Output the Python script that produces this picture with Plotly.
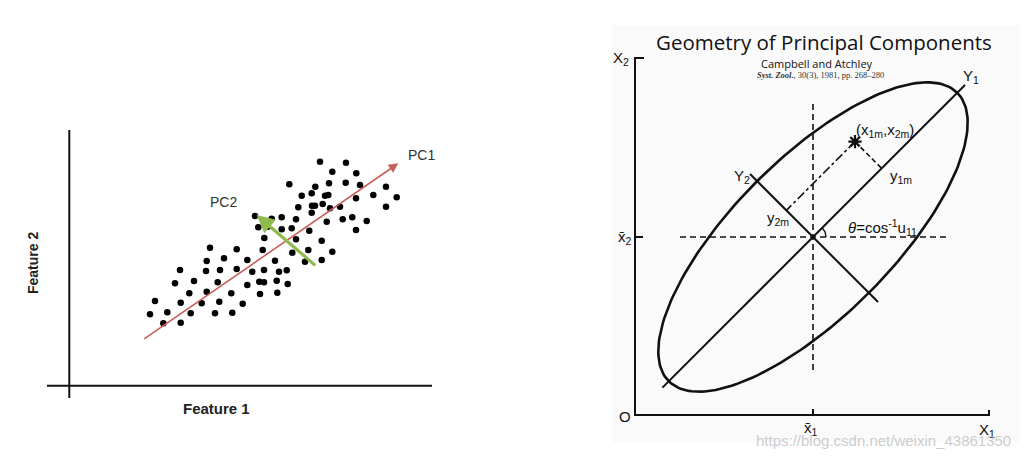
import numpy as np
import plotly.graph_objects as go

# ---------------- Left panel data (Feature 1, Feature 2) ----------------
feature1 = [251, 277, 263.3, 287.3, 220.3, 246.3, 260, 276.7, 291, 317,
            232.7, 242.7, 256, 259.3, 287, 304.3, 327.7, 229.3, 243, 246,
            253.7, 261, 271, 317, 186, 202.7, 212.7, 227, 242.7, 257.7,
            273.7, 283.3, 297.7, 189.3, 198.7, 212.7, 222.7, 240.3, 287, 195.3,
            227, 252.7, 141, 167.7, 193.7, 223.3, 239.3, 263.3, 137.7, 155,
            178.3, 206, 236, 252.7, 111, 137, 151, 167.7, 183.3, 195,
            210, 217.7, 106, 125, 148.7, 178.3, 190.3, 195, 207.7, 218.7,
            120.3, 137.7, 162.3, 191, 208.3, 86, 111.7, 132.7, 150.3, 173.7,
            81, 98.3, 121.7, 146, 163.3, 94.3, 111.7]
feature2 = [223.3, 222.3, 213.3, 211.7, 200.7, 198.3, 201.7, 202.3, 200, 198.3,
            189.3, 191.7, 189.3, 190, 186.7, 190, 187.7, 177.7, 179.3, 179.3,
            181, 176.7, 178.3, 178.3, 169, 166.3, 167.7, 165.7, 172.3, 163.3,
            165.7, 167.7, 164, 157.7, 158.3, 155.7, 156.7, 154.3, 155, 147,
            145.7, 144.3, 137.3, 135.7, 135, 132.3, 135, 133.3, 124, 126.7,
            125, 124.3, 123.3, 125, 115, 114, 115, 116, 113.3, 115,
            113.3, 114.7, 101.7, 104, 102.7, 100, 103.3, 102.7, 104.3, 101,
            91.7, 93.3, 91.7, 91, 92.3, 84, 82.3, 81.7, 83.3, 81.3,
            70.7, 72.7, 71.7, 71.7, 72.3, 61.7, 62.3]
pc1_start = (73.7, 45)
pc1_end = (329.3, 221.7)
pc2_start = (247.7, 118.3)
pc2_end = (187.7, 170)

# ---------------- Right panel data (X1, X2) ----------------
mean_x1 = 178
mean_x2 = 178
semi_major = 204
semi_minor = 79
rotation_deg = 45
y1_extent = (-213, 215)
y2_extent = (-92, 89)
obs_point = (220, 273.3)
x1_axis_end = 354
x2_axis_end = 357

fig = go.Figure()

# ---- left panel ----
fig.add_trace(go.Scatter(x=[0.3, 0.3], y=[-13, 255], mode="lines",
                         line=dict(color="#111", width=2), xaxis="x", yaxis="y", hoverinfo="skip"))
fig.add_trace(go.Scatter(x=[-22, 363], y=[-0.7, -0.7], mode="lines",
                         line=dict(color="#111", width=2), xaxis="x", yaxis="y", hoverinfo="skip"))
fig.add_trace(go.Scatter(x=feature1, y=feature2, mode="markers",
                         marker=dict(color="black", size=6.5), xaxis="x", yaxis="y"))

annotations = []
annotations.append(dict(x=pc1_end[0], y=pc1_end[1], ax=pc1_start[0], ay=pc1_start[1],
                        xref="x", yref="y", axref="x", ayref="y", showarrow=True, text="",
                        arrowhead=2, arrowsize=1.2, arrowwidth=1.6, arrowcolor="#c6605c"))
annotations.append(dict(x=pc2_end[0], y=pc2_end[1], ax=pc2_start[0], ay=pc2_start[1],
                        xref="x", yref="y", axref="x", ayref="y", showarrow=True, text="",
                        arrowhead=2, arrowsize=1.1, arrowwidth=3.2, arrowcolor="#8fbb4e"))
lfont = dict(family="Liberation Sans, Arial", size=14, color="#333")
annotations += [
    dict(x=352.7, y=230, text="PC1", xref="x", yref="y", showarrow=False, font=lfont),
    dict(x=154, y=183.3, text="PC2", xref="x", yref="y", showarrow=False, font=lfont),
    dict(x=147.7, y=-23, text="<b>Feature 1</b>", xref="x", yref="y", showarrow=False,
         font=dict(family="Liberation Sans, Arial", size=15, color="#222")),
    dict(x=-36, y=122, text="<b>Feature 2</b>", xref="x", yref="y", showarrow=False, textangle=-90,
         font=dict(family="Liberation Sans, Arial", size=14, color="#222")),
]

# ---- right panel ----
ax2 = dict(xaxis="x2", yaxis="y2", hoverinfo="skip")
th = np.radians(rotation_deg)
u1 = np.array([np.cos(th), np.sin(th)])
u2 = np.array([-np.sin(th), np.cos(th)])
c = np.array([mean_x1, mean_x2])

# faint scan background
fig.add_trace(go.Scatter(x=[-23, 385, 385, -23, -23], y=[-27, -27, 390, 390, -27], mode="lines",
                         fill="toself", fillcolor="rgb(250,250,250)", line=dict(width=0), **ax2))

# axes
fig.add_trace(go.Scatter(x=[9, 0, 0, x1_axis_end, x1_axis_end], y=[x2_axis_end, x2_axis_end, 0, 0, 5],
                         mode="lines", line=dict(color="#111", width=2), **ax2))
fig.add_trace(go.Scatter(x=[mean_x1, mean_x1], y=[0, 6], mode="lines", line=dict(color="#111", width=2), **ax2))
fig.add_trace(go.Scatter(x=[0, 8], y=[mean_x2, mean_x2], mode="lines", line=dict(color="#111", width=2), **ax2))

# dashed mean lines
fig.add_trace(go.Scatter(x=[mean_x1, mean_x1], y=[45, 312], mode="lines",
                         line=dict(color="#111", width=1.6, dash="6px,4px"), **ax2))
fig.add_trace(go.Scatter(x=[45, 313], y=[mean_x2, mean_x2], mode="lines",
                         line=dict(color="#111", width=1.6, dash="6px,4px"), **ax2))

# ellipse
t = np.linspace(0, 2 * np.pi, 200)
ell = c[:, None] + np.outer(u1, semi_major * np.cos(t)) + np.outer(u2, semi_minor * np.sin(t))
fig.add_trace(go.Scatter(x=ell[0], y=ell[1], mode="lines", line=dict(color="#111", width=2.6), **ax2))

# Y1, Y2 axes
p = c[:, None] + np.outer(u1, y1_extent)
fig.add_trace(go.Scatter(x=p[0], y=p[1], mode="lines", line=dict(color="#111", width=2), **ax2))
p = c[:, None] + np.outer(u2, y2_extent)
fig.add_trace(go.Scatter(x=p[0], y=p[1], mode="lines", line=dict(color="#111", width=2), **ax2))

# projections of observation
obs = np.array(obs_point)
rel = obs - c
proj1 = c + u1 * rel.dot(u1)
proj2 = c + u2 * rel.dot(u2)
fig.add_trace(go.Scatter(x=[obs[0], proj2[0]], y=[obs[1], proj2[1]], mode="lines",
                         line=dict(color="#111", width=1.6, dash="dashdot"), **ax2))
fig.add_trace(go.Scatter(x=[obs[0], proj1[0]], y=[obs[1], proj1[1]], mode="lines",
                         line=dict(color="#111", width=1.6, dash="5px,3px"), **ax2))
fig.add_trace(go.Scatter(x=[obs[0]], y=[obs[1]], mode="markers",
                         marker=dict(symbol="asterisk", size=11, line=dict(width=2.2, color="#111")), **ax2))

# angle arc
a = np.linspace(0, th, 12)
fig.add_trace(go.Scatter(x=c[0] + 13 * np.cos(a), y=c[1] + 13 * np.sin(a), mode="lines",
                         line=dict(color="#111", width=1.4), **ax2))

rf = dict(family="Liberation Sans, Arial", size=15, color="#111")
def lab(x, y, text, **kw):
    d = dict(x=x, y=y, text=text, xref="x2", yref="y2", showarrow=False, font=rf)
    d.update(kw)
    annotations.append(d)

lab(-14, 357, "X<sub>2</sub>")
lab(-10, 178, "x̄<sub>2</sub>")
lab(-10, -1, "O")
lab(176, -13, "x̄<sub>1</sub>")
lab(352, -15, "X<sub>1</sub>")
lab(336, 339, "Y<sub>1</sub>")
lab(107, 239, "Y<sub>2</sub>")
lab(250, 285, "(x<sub>1m</sub>,x<sub>2m</sub>)")
lab(266, 239, "y<sub>1m</sub>")
lab(143, 197, "y<sub>2m</sub>")
lab(247, 188, "<i>θ</i>=cos<sup>-1</sup>u<sub>11</sub>")
lab(188.5, 373, "Geometry of Principal Components",
    font=dict(family="Open Sans, DejaVu Sans", size=20.5, color="#111"))
lab(182, 352, "Campbell and Atchley", font=dict(family="Open Sans, DejaVu Sans", size=11, color="#111"))
lab(185, 340, "<i><b>Syst. Zool.</b></i>, 30(3), 1981, pp. 268–280",
    font=dict(family="Liberation Serif, Times New Roman", size=8.5, color="#333"))
lab(248, -25, "https://blog.csdn.net/weixin_43861350",
    font=dict(family="Liberation Sans, Arial", size=15, color="rgba(190,190,190,0.8)"))

hidden = dict(showgrid=False, zeroline=False, showticklabels=False, ticks="", showline=False, fixedrange=True)
fig.update_layout(
    width=1029, height=458, margin=dict(l=0, r=0, t=0, b=0),
    paper_bgcolor="white", plot_bgcolor="white", showlegend=False,
    xaxis=dict(domain=[0, 0.5], range=[-69, 445.5], **hidden),
    yaxis=dict(domain=[0, 1], range=[-73, 385], **hidden),
    xaxis2=dict(domain=[0.5, 1], range=[-120.5, 394], anchor="y2", **hidden),
    yaxis2=dict(domain=[0, 1], range=[-43, 415], anchor="x2", **hidden),
    annotations=annotations,
)
fig.write_html("out.html", config={"displayModeBar": False},
               post_script="document.body.style.margin='0';document.body.style.overflow='hidden';")
